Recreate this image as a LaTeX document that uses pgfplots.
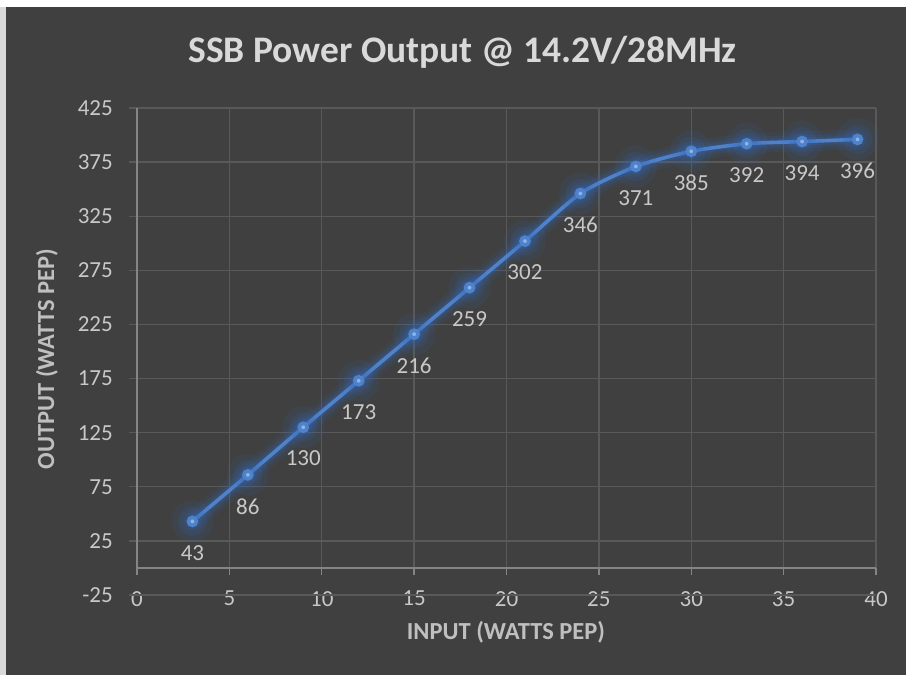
\documentclass[border=0pt]{standalone}
\usepackage{pgfplots}
\pgfplotsset{compat=1.18}
\usepackage{fontspec}
\setmainfont{Carlito}
\definecolor{bg}{HTML}{404040}
\definecolor{edgec}{HTML}{D9D9D9}
\definecolor{gridc}{HTML}{595959}
\definecolor{axisc}{HTML}{858585}
\definecolor{tickc}{HTML}{C8C8C8}
\definecolor{labc}{HTML}{BFBFBF}
\definecolor{titc}{HTML}{D9D9D9}
\definecolor{linec}{HTML}{4E82CB}
\definecolor{glowc}{HTML}{3468B8}
\definecolor{markc}{HTML}{8EB4E3}
\begin{document}
\begin{tikzpicture}[x=1pt,y=1pt]
\useasboundingbox (0,0) rectangle (906,675);
\fill[white] (0,0) rectangle (906,675);
\fill[edgec] (0,0) rectangle (6,668);
\fill[bg] (6,0) rectangle (906,668);
\node[text=titc, font=\fontsize{37.5}{44}\selectfont\bfseries, anchor=center] at (462.5,623) {SSB Power Output @ 14.2V/28MHz};
\node[text=labc, font=\fontsize{24.5}{28}\selectfont\bfseries, anchor=center] at (506,43) {INPUT (WATTS PEP)};
\node[text=labc, font=\fontsize{24.5}{28}\selectfont\bfseries, anchor=center, rotate=90] at (47,316) {OUTPUT (WATTS PEP)};
\begin{axis}[
  at={(137pt,80pt)}, anchor=south west,
  width=739pt, height=487pt, scale only axis,
  xmin=0, xmax=40, ymin=-25, ymax=425,
  axis line style={draw=none},
  xtick={0,5,10,15,20,25,30,35,40},
  ytick={-25,25,75,125,175,225,275,325,375,425},
  yticklabels={-25,25,75,125,175,225,275,325,375,425},
  major tick length=0pt,
  tick label style={text=tickc, font=\fontsize{23}{27}\selectfont},
  xticklabel style={anchor=north, inner sep=0pt, yshift=4pt},
  yticklabel style={anchor=east, inner sep=0pt, xshift=-24pt},
  /pgf/number format/assume math mode=true,
  clip=false,
  nodes near coords,
  nodes near coords style={text=tickc, font=\fontsize{23}{27}\selectfont, anchor=north, inner sep=0pt, yshift=-22pt},
]
% horizontal gridlines
\foreach \v in {-25,25,75,125,175,225,275,325,375,425}{
  \edef\tmp{\noexpand\draw[gridc, line width=1.3pt] ([xshift=-8pt]axis cs:0,\v) -- (axis cs:40,\v);}\tmp
}
% vertical gridlines
\foreach \u in {5,10,15,20,25,30,35,40}{
  \edef\tmp{\noexpand\draw[gridc, line width=1.3pt] (axis cs:\u,0) -- (axis cs:\u,425);
  \noexpand\draw[axisc, line width=1.3pt] (axis cs:\u,0) -- ([yshift=-7pt]axis cs:\u,0);}\tmp
}
% axis lines
\draw[axisc, line width=1.3pt] ([yshift=-7pt]axis cs:0,0) -- (axis cs:0,425);
\draw[axisc, line width=1.3pt] (axis cs:0,0) -- (axis cs:40,0);
% glow layers
\addplot[glowc, opacity=0.10, line width=20pt, smooth, tension=0.4, mark=*, mark size=11pt, mark options={draw=none, fill=glowc}, nodes near coords={}] coordinates {
(3,43)(6,86)(9,130)(12,173)(15,216)(18,259)(21,302)(24,346)(27,371)(30,385)(33,392)(36,394)(39,396)};
\addplot[glowc, opacity=0.15, line width=13pt, smooth, tension=0.4, mark=*, mark size=8pt, mark options={draw=none, fill=glowc}, nodes near coords={}] coordinates {
(3,43)(6,86)(9,130)(12,173)(15,216)(18,259)(21,302)(24,346)(27,371)(30,385)(33,392)(36,394)(39,396)};
\addplot[glowc, opacity=0.22, line width=8pt, smooth, tension=0.4, nodes near coords={}] coordinates {
(3,43)(6,86)(9,130)(12,173)(15,216)(18,259)(21,302)(24,346)(27,371)(30,385)(33,392)(36,394)(39,396)};
% main series
\addplot[linec, line width=3.6pt, smooth, tension=0.4, mark=*, mark size=4pt, mark options={draw=none, fill=markc}] coordinates {
(3,43)(6,86)(9,130)(12,173)(15,216)(18,259)(21,302)(24,346)(27,371)(30,385)(33,392)(36,394)(39,396)};
\end{axis}
\end{tikzpicture}
\end{document}
